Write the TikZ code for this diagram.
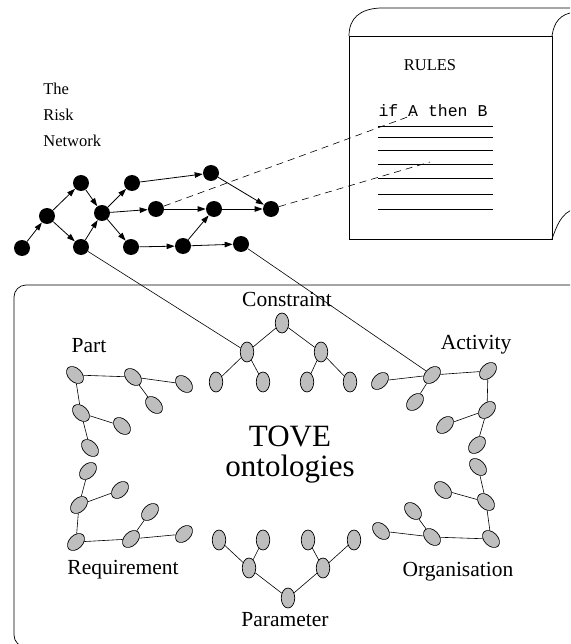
\documentclass[tikz,border=0pt]{standalone}
\usepackage{fontspec}
\setmainfont{Liberation Serif}
\setmonofont{Liberation Mono}
\usetikzlibrary{shapes.geometric, arrows.meta}
\definecolor{cGrey}{RGB}{190,190,190}
\tikzset{
	riskdot/.style  ={circle, fill=black, minimum size=16pt, inner sep=0pt},
	onto/.style     ={ellipse, draw=black, fill=cGrey, minimum width=13.5pt, minimum height=20pt, inner sep=0pt},
	riskarrow/.style={-{Triangle[length=8pt,width=5.5pt]}, line width=0.8pt},
	tie/.style      ={line width=0.6pt},
	ruleink/.style  ={dash pattern=on 7pt off 5pt, line width=0.6pt},
	lbl/.style      ={font=\fontsize{21.5}{24}\selectfont, inner sep=0pt},
	small/.style    ={font=\fontsize{16.5}{25.8}\selectfont, inner sep=0pt},
}

\begin{document}
\begin{tikzpicture}[x=1pt, y=-1pt, line width=0.7pt]
	\useasboundingbox (0,0) rectangle (570,644);
	\clip (0,0) rectangle (570,644);
	% rule sheet (scroll)
	\draw (349,36) rectangle (552,239);
	\draw (349,36) .. controls (349,18) and (360,9) .. (380,8) -- (575,8);
	\draw (552,36) .. controls (554,22) and (560,14) .. (575,12);
	\draw (552,239) .. controls (556,228) and (561,212) .. (575,209);
	\node[small] (rules) at (430,65) {RULES};
	\node[small, font=\fontsize{16.5}{20}\ttfamily] (ifab) at (433,111) {if A then B};
	\foreach \y in {126,137,150,164,178,194,209}
		\draw[line width=0.6pt] (378,\y) -- (493,\y);
	\coordinate (ruleA) at (413,115);
	\coordinate (ruleB) at (430,162);

	% ontology frame
	\draw[rounded corners=12pt] (14,285) rectangle (600,647);

	% risk network
	\node[small, anchor=west, align=left] (risk) at (43,115) {The\\Risk\\Network};
	\node[riskdot] (n1) at (22,248) {};
	\node[riskdot] (n2) at (47,216) {};
	\node[riskdot] (n3) at (81,183) {};
	\node[riskdot] (n4) at (81,247) {};
	\node[riskdot] (n5) at (102,213) {};
	\node[riskdot] (n6) at (132,183) {};
	\node[riskdot] (n7) at (156,209) {};
	\node[riskdot] (n8) at (131,247) {};
	\node[riskdot] (n9) at (211,173) {};
	\node[riskdot] (n10) at (214,209) {};
	\node[riskdot] (n11) at (183,246) {};
	\node[riskdot] (n12) at (241,244) {};
	\node[riskdot] (n13) at (271,209) {};
	\foreach \a/\b in {n1/n2, n2/n3, n2/n4, n3/n5, n4/n5, n5/n6, n5/n7, n5/n8,
		n6/n9, n7/n10, n8/n11, n11/n10, n11/n12, n9/n13, n10/n13}
		\draw[riskarrow] (\a) -- (\b);
	\draw[ruleink] (n7) -- (ruleA);
	\draw[ruleink] (n13) -- (ruleB);

	% TOVE ontologies
	\node[inner sep=0pt, align=center, font=\fontsize{31}{30}\selectfont] (tove) at (290,455) {TOVE\\ontologies};

	% constraint
	\node[lbl] (lcon) at (287,299) {Constraint};
	\node[onto] (c1) at (282,323) {};
	\node[onto] (c2) at (247,352) {};
	\node[onto] (c3) at (321,352) {};
	\node[onto] (c4) at (216,382) {};
	\node[onto] (c5) at (263,382) {};
	\node[onto] (c6) at (307,382) {};
	\node[onto] (c7) at (350,382) {};
	\foreach \a/\b in {c1/c2, c1/c3, c2/c4, c2/c5, c3/c6, c3/c7}
		\draw[tie] (\a) -- (\b);

	% part
	\node[lbl] (lpart) at (89,346) {Part};
	\node[onto, rotate=45] (p1) at (75,375) {};
	\node[onto, rotate=45] (p2) at (133,377) {};
	\node[onto, rotate=45] (p3) at (184,384) {};
	\node[onto, rotate=45] (p4) at (154,405) {};
	\node[onto, rotate=45] (p5) at (81,413) {};
	\node[onto, rotate=45] (p6) at (122,426) {};
	\node[onto, rotate=45] (p7) at (90,448) {};
	\foreach \a/\b in {p1/p2, p2/p3, p2/p4, p1/p5, p5/p6, p5/p7}
		\draw[tie] (\a) -- (\b);

	% activity
	\node[lbl] (lact) at (476,345) {Activity};
	\node[onto, rotate=-45] (a1) at (432,375) {};
	\node[onto, rotate=-45] (a2) at (488,371) {};
	\node[onto, rotate=-45] (a3) at (380,381) {};
	\node[onto, rotate=-45] (a4) at (415,402) {};
	\node[onto, rotate=-45] (a5) at (487,410) {};
	\node[onto, rotate=-45] (a6) at (445,425) {};
	\node[onto, rotate=-45] (a7) at (477,445) {};
	\foreach \a/\b in {a1/a3, a1/a4, a1/a2, a2/a5, a5/a6, a5/a7}
		\draw[tie] (\a) -- (\b);

	% requirement
	\node[lbl] (lreq) at (123,570) {Requirement};
	\node[onto, rotate=-45] (r1) at (88,471) {};
	\node[onto, rotate=-45] (r2) at (79,505) {};
	\node[onto, rotate=-45] (r3) at (120,490) {};
	\node[onto, rotate=-45] (r4) at (150,512) {};
	\node[onto, rotate=-45] (r5) at (76,542) {};
	\node[onto, rotate=-45] (r6) at (131,539) {};
	\node[onto, rotate=-45] (r7) at (184,534) {};
	\foreach \a/\b in {r1/r2, r2/r3, r2/r5, r5/r6, r6/r4, r6/r7}
		\draw[tie] (\a) -- (\b);

	% parameter
	\node[lbl] (lpar) at (285,620) {Parameter};
	\node[onto] (q1) at (219,540) {};
	\node[onto] (q2) at (263,540) {};
	\node[onto] (q3) at (308,540) {};
	\node[onto] (q4) at (354,540) {};
	\node[onto] (q5) at (249,568) {};
	\node[onto] (q6) at (323,568) {};
	\node[onto] (q7) at (288,598) {};
	\foreach \a/\b in {q1/q5, q2/q5, q3/q6, q4/q6, q5/q7, q6/q7}
		\draw[tie] (\a) -- (\b);

	% organisation
	\node[lbl] (lorg) at (458,572) {Organisation};
	\node[onto, rotate=45] (o1) at (478,467) {};
	\node[onto, rotate=45] (o2) at (443,490) {};
	\node[onto, rotate=45] (o3) at (486,502) {};
	\node[onto, rotate=45] (o4) at (413,511) {};
	\node[onto, rotate=45] (o5) at (381,531) {};
	\node[onto, rotate=45] (o6) at (432,537) {};
	\node[onto, rotate=45] (o7) at (491,539) {};
	\foreach \a/\b in {o1/o3, o3/o2, o3/o7, o7/o6, o6/o4, o6/o5}
		\draw[tie] (\a) -- (\b);

	% links from the network into the ontologies
	\draw[tie] (n4) -- (c2);
	\draw[tie] (n12) -- (a1);
\end{tikzpicture}
\end{document}
